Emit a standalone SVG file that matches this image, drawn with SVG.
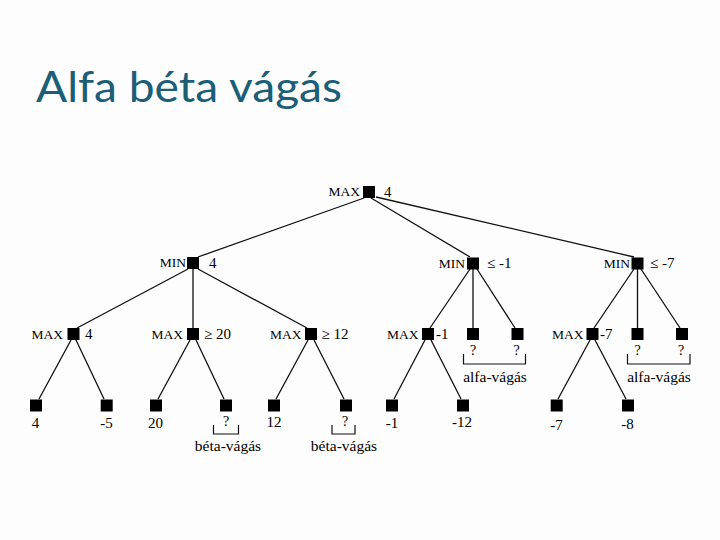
<svg xmlns="http://www.w3.org/2000/svg" width="720" height="540" viewBox="0 0 720 540">
<style>
.t{font-family:"Liberation Serif","Times New Roman",serif;fill:#000}
.lab{font-size:13.5px}
.val{font-size:15px}
.q{font-size:14px;text-anchor:middle}
.num{font-size:15px;text-anchor:middle}
.cut{font-size:15.5px;text-anchor:middle}
.e{text-anchor:end}
.edge{stroke:#111;stroke-width:1.3;fill:none}
.br{stroke:#111;stroke-width:1.2;fill:none}
</style>
<defs>
<rect id="sq" x="-6" y="-6" width="12" height="12" fill="#000"/>
</defs>
<rect width="720" height="540" fill="#fdfdfd"/>
<text x="36" y="102" font-family="Lato,'Open Sans',sans-serif" font-size="43" fill="#1b5e78" textLength="306" lengthAdjust="spacingAndGlyphs">Alfa béta vágás</text>

<g id="connectors">
<path class="edge" d="M364 198L198 257M371 198L470 257M376 197L634 257"/>
<path class="edge" d="M188 269L77 328M193 269L193 328M198 269L307 328"/>
<path class="edge" d="M470 269L430 328M473 269L473 328M477 269L515 328"/>
<path class="edge" d="M634 269L594 328M637.5 269L637.5 328M641 269L680 328"/>
<path class="edge" d="M71 340L39 399M76 340L104 399"/>
<path class="edge" d="M190 340L158 399M196 340L224 399"/>
<path class="edge" d="M308 340L276 399M314 340L344 399"/>
<path class="edge" d="M425 340L394 399M431 340L461 399"/>
<path class="edge" d="M590 340L558 399M595 340L626 399"/>
</g>

<g id="root"><use href="#sq" x="369" y="192"/><text class="t lab e" x="360" y="196">MAX</text><text class="t val" x="384" y="197">4</text></g>

<g id="min1"><use href="#sq" x="193" y="263"/><text class="t lab e" x="186" y="267">MIN</text><text class="t val" x="209" y="268">4</text></g>
<g id="min2"><use href="#sq" x="473" y="263.5"/><text class="t lab e" x="465" y="268">MIN</text><text class="t val" x="487" y="268">≤ -1</text></g>
<g id="min3"><use href="#sq" x="637.5" y="263.5"/><text class="t lab e" x="630" y="268">MIN</text><text class="t val" x="650" y="268">≤ -7</text></g>

<g id="max1"><use href="#sq" x="73.5" y="334"/><text class="t lab e" x="63" y="339">MAX</text><text class="t val" x="85" y="339">4</text></g>
<g id="max2"><use href="#sq" x="193" y="334"/><text class="t lab e" x="183" y="339">MAX</text><text class="t val" x="204" y="339">≥ 20</text></g>
<g id="max3"><use href="#sq" x="311" y="334"/><text class="t lab e" x="301.5" y="339">MAX</text><text class="t val" x="321.5" y="339">≥ 12</text></g>
<g id="max4"><use href="#sq" x="428" y="334"/><text class="t lab e" x="418.5" y="339">MAX</text><text class="t val" x="436" y="339">-1</text></g>
<g id="q1"><use href="#sq" x="473" y="334"/><text class="t q" x="473" y="355">?</text></g>
<g id="q2"><use href="#sq" x="517.5" y="334"/><text class="t q" x="516.5" y="355">?</text></g>
<g id="max5"><use href="#sq" x="592.5" y="334"/><text class="t lab e" x="583.5" y="339">MAX</text><text class="t val" x="600" y="339">-7</text></g>
<g id="q3"><use href="#sq" x="637.5" y="334"/><text class="t q" x="637.5" y="355">?</text></g>
<g id="q4"><use href="#sq" x="682" y="334"/><text class="t q" x="681" y="355">?</text></g>

<g id="alfa1"><path class="br" d="M463.5 354V364H525.5V354"/><text class="t cut" x="495" y="382">alfa-vágás</text></g>
<g id="alfa2"><path class="br" d="M627.5 354V364H690V354"/><text class="t cut" x="659" y="382">alfa-vágás</text></g>

<g id="l1"><use href="#sq" x="36" y="405.5"/><text class="t num" x="35.5" y="428">4</text></g>
<g id="l2"><use href="#sq" x="106.7" y="405.5"/><text class="t num" x="106.5" y="428">-5</text></g>
<g id="l3"><use href="#sq" x="156" y="405.5"/><text class="t num" x="155.5" y="428">20</text></g>
<g id="l4"><use href="#sq" x="226" y="405.5"/><text class="t q" x="226" y="426">?</text></g>
<g id="l5"><use href="#sq" x="274" y="405.5"/><text class="t num" x="274" y="427">12</text></g>
<g id="l6"><use href="#sq" x="346" y="405.5"/><text class="t q" x="345" y="426">?</text></g>
<g id="l7"><use href="#sq" x="392" y="405.5"/><text class="t num" x="392" y="428">-1</text></g>
<g id="l8"><use href="#sq" x="463" y="405.5"/><text class="t num" x="462" y="427">-12</text></g>
<g id="l9"><use href="#sq" x="556.7" y="405.5"/><text class="t num" x="556.5" y="429.5">-7</text></g>
<g id="l10"><use href="#sq" x="628" y="405.5"/><text class="t num" x="627.5" y="428.5">-8</text></g>

<g id="beta1"><path class="br" d="M213.5 425V434H238.5V425"/><text class="t cut" x="228" y="451">béta-vágás</text></g>
<g id="beta2"><path class="br" d="M332 425V434H355V425"/><text class="t cut" x="344" y="451">béta-vágás</text></g>
</svg>
